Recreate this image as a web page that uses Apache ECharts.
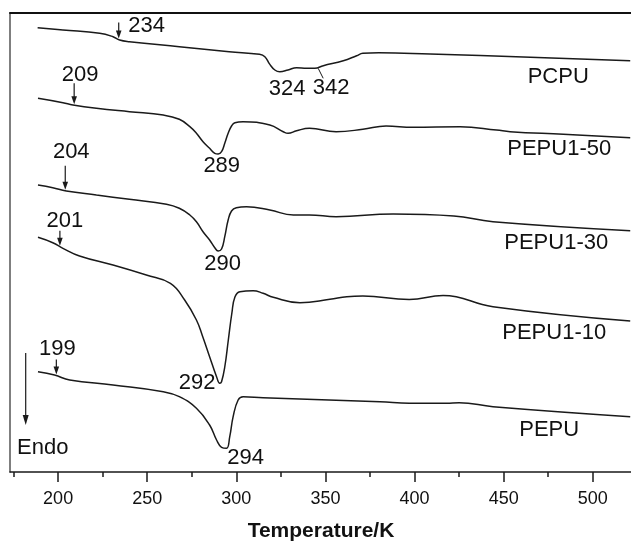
<!DOCTYPE html>
<html><head><meta charset="utf-8">
<script src="https://cdn.jsdelivr.net/npm/echarts@6/dist/echarts.min.js"></script>
<style>html,body{margin:0;padding:0;background:#fff}#c{width:631px;height:541px}</style>
</head><body><div id="c"></div>
<script>
// ---- data (Temperature / K, heat flow in arbitrary units) ----
const majorTicks = [200, 250, 300, 350, 400, 450, 500];
const minorTicks = [175, 225, 275, 325, 375, 425, 475];
const seriesNames = ['PCPU', 'PEPU1-50', 'PEPU1-30', 'PEPU1-10', 'PEPU'];

const pcpu = [[188.5,44.43],[202.7,44.20],[223.3,43.87],[230.8,43.53],[234.5,43.20],[240,43.03],[268,42.53],[296,42.03],[313,41.77],[316,41.53],[318.8,40.76],[321.6,40.20],[324.4,40.03],[329,40.20],[333.8,40.43],[339.4,40.37],[344,40.37],[348.8,40.63],[360,41.13],[367.5,41.63],[371,41.87],[380,41.93],[408.7,41.80],[465,41.47],[521,41.13]];
const pepu150 = [[188.7,37.37],[202.7,36.93],[208.3,36.70],[221.5,36.37],[240,36.03],[259,35.70],[268,35.27],[273.9,34.53],[277.6,33.87],[281.3,33.03],[285,32.37],[287.9,31.87],[289.8,31.80],[291.7,32.03],[293.5,32.87],[295.4,33.87],[297.3,34.60],[299.2,34.93],[303.8,35.03],[318.8,34.70],[326.3,34.03],[329,33.87],[333.8,34.13],[341,34.37],[356,34.03],[371,34.27],[384,34.60],[399,34.47],[425.5,34.53],[446,34.20],[453.6,34.03],[483.5,33.77],[521,33.43]];
const pepu130 = [[188.7,28.70],[197,28.43],[204.6,28.10],[221.5,27.70],[240,27.27],[260.8,26.77],[268,26.37],[273.9,25.70],[277.6,25.03],[281.3,24.03],[285,23.20],[287.9,22.43],[289.8,22.10],[291.7,22.30],[293.5,23.53],[295.4,25.20],[297.3,26.10],[300,26.43],[305.7,26.53],[318.8,26.20],[332,25.70],[341,25.70],[356,25.53],[388,25.80],[422,25.60],[444,25.03],[521,24.13]];
const pepu110 = [[188.7,23.47],[197,22.93],[202.7,22.37],[212,21.60],[230.8,20.70],[249.5,19.70],[263,18.87],[271,17.20],[277.6,15.20],[281,13.60],[285,11.53],[288.9,9.53],[290.7,8.87],[291.7,9.03],[293.5,10.50],[295.5,13.20],[297.5,15.90],[299.2,17.50],[302,18.03],[309.4,18.13],[315,17.87],[320.7,17.47],[335.7,16.93],[352.5,17.27],[362,17.53],[371,17.60],[397,17.25],[416,17.65],[444,16.53],[521,15.10]];
const pepu = [[188.7,10.03],[198,9.70],[206.5,9.20],[230.8,8.70],[259,8.03],[268,7.53],[277.6,6.37],[285,4.70],[288.9,3.20],[291.7,2.47],[294.5,2.37],[296.3,3.53],[298.2,5.53],[301,7.20],[303.8,7.53],[315,7.43],[380.6,7.03],[397,6.87],[418,6.87],[425,6.93],[444,6.53],[521,5.53]];

const onsetT = [234, 209, 204, 201, 199];
const peakT = [[324, 342], [289], [290], [292], [294]];

// ---- styles / layout ----
const allData = [pcpu, pepu150, pepu130, pepu110, pepu];
const FONT = '"Liberation Sans", Arial, sans-serif';
const INK = '#1a1a1a';
const arrowLen = [16, 21, 24, 15, 15];
const onsetOffset = [[28,-13.5],[6,-30],[6,-39],[5,-26],[1,-26.5]];
const peakOffset = [[[8,17],[20,20]],[[5,12]],[[4,13]],[[-25,4]],[[20,9.5]]];
const nameOffset = [[-72,16],[-71,11],[-74,12],[-76,11.5],[-81,13.5]];

const chart = echarts.init(document.getElementById('c'), null, {renderer: 'canvas'});
const option = {
  backgroundColor: '#fff',
  animation: false,
  grid: {left: 10, top: 13, width: 622, height: 459, containLabel: false, outerBoundsMode: 'none'},
  xAxis: [
    {
      type: 'value', min: 173, max: 522, position: 'bottom',
      name: 'Temperature/K', nameLocation: 'middle', nameGap: 49,
      nameTextStyle: {fontFamily: FONT, fontSize: 21, fontWeight: 'bold', color: '#111'},
      axisLine: {show: true, lineStyle: {color: INK, width: 1.5}},
      axisTick: {show: true, length: 10, customValues: majorTicks, lineStyle: {color: INK, width: 1.5}},
      axisLabel: {show: true, customValues: majorTicks, margin: 18, fontFamily: FONT, fontSize: 18, color: '#111'},
      splitLine: {show: false}
    },
    {
      type: 'value', min: 173, max: 522, position: 'bottom',
      axisLine: {show: false},
      axisTick: {show: true, length: 5, customValues: minorTicks, lineStyle: {color: INK, width: 1.5}},
      axisLabel: {show: false},
      splitLine: {show: false}
    },
    {
      type: 'value', min: 173, max: 522, position: 'top',
      axisLine: {show: true, lineStyle: {color: '#111', width: 2}},
      axisTick: {show: false}, axisLabel: {show: false}, splitLine: {show: false}
    }
  ],
  yAxis: {
    type: 'value', min: 0, max: 45.9,
    axisLine: {show: true, lineStyle: {color: '#555', width: 1.5}},
    axisTick: {show: false}, axisLabel: {show: false}, splitLine: {show: false}
  },
  series: allData.map((d, i) => ({
    name: seriesNames[i], type: 'line', data: d, xAxisIndex: 0,
    showSymbol: false, smooth: 0.45,
    lineStyle: {color: INK, width: 1.5}, silent: true
  }))
};
chart.setOption(option);

function yAt(d, t) {
  for (let k = 0; k < d.length - 1; k++) {
    if (t >= d[k][0] && t <= d[k+1][0]) {
      const f = (t - d[k][0]) / (d[k+1][0] - d[k][0]);
      return d[k][1] + f * (d[k+1][1] - d[k][1]);
    }
  }
  return d[d.length-1][1];
}
function px(t, v) { return chart.convertToPixel({gridIndex: 0}, [t, v]); }
function txt(s, x, y, size, align) {
  return {type: 'text', silent: true, style: {text: s, x: x, y: y, font: size + 'px ' + FONT, fill: '#111',
    align: align || 'center', verticalAlign: 'middle', textAlign: align || 'center', textVerticalAlign: 'middle'}};
}
const g = [];
allData.forEach((d, i) => {
  const p = px(onsetT[i], yAt(d, onsetT[i]));
  const tipY = p[1] - 1;
  g.push({type: 'line', silent: true, shape: {x1: p[0], y1: tipY - arrowLen[i], x2: p[0], y2: tipY - 5},
    style: {stroke: INK, lineWidth: 1.2}});
  g.push({type: 'polygon', silent: true, shape: {points: [[p[0]-2.8, tipY-8], [p[0]+2.8, tipY-8], [p[0], tipY]]},
    style: {fill: INK}});
  g.push(txt(String(onsetT[i]), p[0] + onsetOffset[i][0], p[1] + onsetOffset[i][1], 22));
  peakT[i].forEach((t, j) => {
    const q = px(t, yAt(d, t));
    g.push(txt(String(t), q[0] + peakOffset[i][j][0], q[1] + peakOffset[i][j][1], 22));
  });
  const e = d[d.length - 1];
  const r = px(e[0], e[1]);
  g.push(txt(seriesNames[i], r[0] + nameOffset[i][0], r[1] + nameOffset[i][1], 22));
});
const lq = px(342, yAt(pcpu, 342));
g.push({type: 'line', silent: true, shape: {x1: lq[0] + 7, y1: lq[1], x2: lq[0] + 12, y2: lq[1] + 10},
  style: {stroke: INK, lineWidth: 1}});
g.push({type: 'line', silent: true, shape: {x1: 25.7, y1: 353, x2: 25.7, y2: 418}, style: {stroke: INK, lineWidth: 1.2}});
g.push({type: 'polygon', silent: true, shape: {points: [[22.7, 415], [28.7, 415], [25.7, 425]]}, style: {fill: INK}});
g.push(txt('Endo', 17, 447.5, 22, 'left'));
chart.setOption({graphic: g});
</script>
</body></html>
